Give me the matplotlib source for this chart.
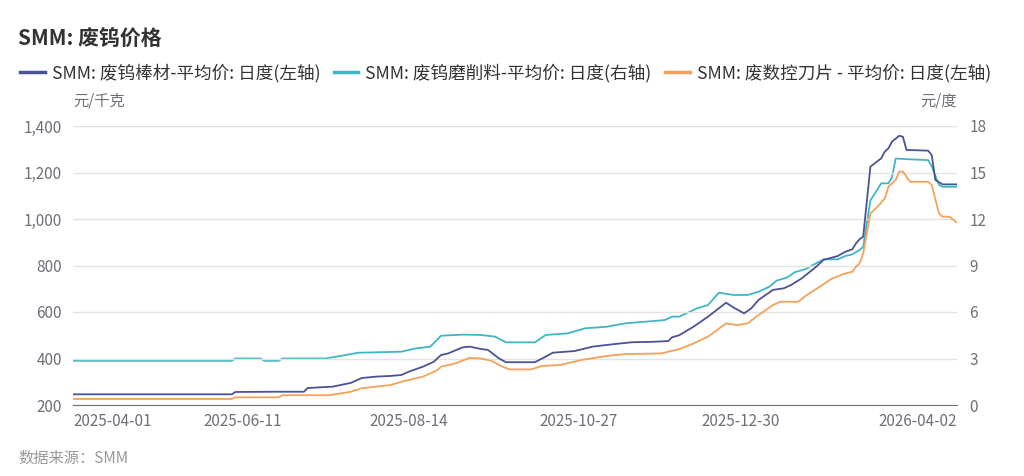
import matplotlib
matplotlib.use('Agg')
import matplotlib.pyplot as plt

plt.rcParams['font.family'] = ['Noto Sans CJK SC', 'DejaVu Sans']

# trading-day index of each vertex
rod_day = [0, 44, 45, 55, 64, 65, 72, 77, 80, 84, 88, 91, 93, 97, 100, 102, 104, 108, 110, 113,
           115, 118, 120, 128, 131, 133, 139, 144, 150, 155, 161, 165, 166, 168, 172, 176, 181,
           183, 186, 188, 190, 194, 197, 199, 202, 206, 208, 212, 214, 216, 217, 218, 219, 221,
           224, 225, 226, 227, 229, 230, 231, 237, 238, 239, 241, 245]
rod_price = [246, 246, 256, 257, 257, 273, 279, 295, 316, 322, 325, 329, 343, 365, 386, 415, 422,
             448, 451, 441, 437, 401, 384, 384, 408, 425, 432, 451, 462, 470, 472, 475, 491, 500,
             537, 580, 640, 620, 594, 616, 652, 695, 702, 716, 745, 795, 824, 841, 859, 870, 895,
             913, 924, 1225, 1261, 1290, 1304, 1333, 1358, 1354, 1297, 1294, 1275, 1168, 1149, 1149]

grind_day = [0, 44, 45, 52, 53, 57, 58, 70, 74, 79, 91, 95, 99, 102, 108, 113, 117, 120, 128, 131,
             137, 142, 148, 153, 159, 164, 166, 168, 173, 176, 179, 183, 187, 190, 193, 195, 198,
             200, 203, 208, 212, 214, 216, 218, 219, 221, 224, 226, 227, 228, 232, 237, 238, 240,
             241, 245]
grind_price = [2.85, 2.85, 3.0, 3.0, 2.85, 2.85, 3.0, 3.0, 3.16, 3.37, 3.44, 3.65, 3.76, 4.47, 4.54,
               4.52, 4.41, 4.04, 4.04, 4.52, 4.62, 4.95, 5.05, 5.27, 5.38, 5.48, 5.7, 5.7, 6.24,
               6.45, 7.25, 7.1, 7.1, 7.31, 7.63, 8.02, 8.24, 8.56, 8.77, 9.4, 9.4, 9.61, 9.72, 10.0,
               10.2, 13.2, 14.3, 14.3, 14.7, 15.9, 15.85, 15.8, 15.4, 14.2, 14.08, 14.08]

insert_day = [0, 44, 45, 57, 58, 71, 77, 80, 84, 88, 91, 97, 101, 102, 106, 110, 113, 116, 119, 121,
              127, 130, 135, 141, 148, 153, 163, 168, 172, 176, 181, 184, 187, 190, 194, 196, 201,
              203, 207, 210, 214, 216, 217, 218, 219, 221, 223, 225, 226, 228, 229, 230, 232, 237,
              238, 240, 241, 243, 244, 245]
insert_price = [226, 226, 233, 233, 242, 242, 257, 272, 279, 286, 300, 322, 350, 365, 379, 403, 400,
                390, 365, 353, 353, 368, 372, 394, 411, 419, 422, 440, 465, 494, 551, 544, 551, 587,
                630, 644, 644, 669, 709, 741, 766, 773, 795, 809, 852, 1024, 1053, 1089, 1139, 1168,
                1204, 1204, 1160, 1160, 1146, 1024, 1010, 1010, 996, 985]

tick_day = [0, 47, 93, 140, 185, 245]
tick_label = ['2025-04-01', '2025-06-11', '2025-08-14', '2025-10-27', '2025-12-30', '2026-04-02']

c_rod = '#4b5394'
c_grind = '#3fb6c4'
c_insert = '#f2a25a'
txt = '#6e7079'

fig = plt.figure(figsize=(10.24, 4.76), dpi=100)
ax = fig.add_axes([73 / 1024, 1 - 405 / 476, (957 - 73) / 1024, (405 - 126) / 476])
ax2 = ax.twinx()

l1, = ax.plot(rod_day, rod_price, color=c_rod, lw=1.3)
l3, = ax.plot(insert_day, insert_price, color=c_insert, lw=1.3)
l2, = ax2.plot(grind_day, grind_price, color=c_grind, lw=1.3)
ax.set_zorder(ax2.get_zorder() + 1)
ax.patch.set_visible(False)

ax.set_xlim(0, 245)
ax.set_ylim(200, 1400)
ax.set_yticks(range(200, 1401, 200))
ax.set_yticklabels([f'{v:,}' for v in range(200, 1401, 200)])
ax2.set_ylim(0, 18)
ax2.set_yticks(range(0, 19, 3))

ax.set_xticks(tick_day)
ax.set_xticklabels(tick_label)
xl = ax.get_xticklabels()
xl[0].set_ha('left')
xl[-1].set_ha('right')

ax.grid(axis='y', color='#e3e3e3', lw=1)
for a in (ax, ax2):
    for s in ('top', 'left', 'right', 'bottom'):
        a.spines[s].set_visible(False)
    a.tick_params(length=0, labelsize=11, colors=txt)
ax.spines['bottom'].set_visible(True)
ax.spines['bottom'].set_color('#6e7079')
ax.tick_params(axis='x', pad=6)
ax.tick_params(axis='y', pad=8)
ax2.tick_params(axis='y', pad=9)

fig.text(18 / 1024, 1 - 38 / 476, 'SMM: 废钨价格', fontsize=15, fontweight='bold',
         color='#333333', va='center')
fig.legend([l1, l2, l3],
           ['SMM: 废钨棒材-平均价: 日度(左轴)', 'SMM: 废钨磨削料-平均价: 日度(右轴)',
            'SMM: 废数控刀片 - 平均价: 日度(左轴)'],
           loc='center left', bbox_to_anchor=(20 / 1024, 1 - 73 / 476), ncol=3, frameon=False,
           handlelength=1.4, handletextpad=0.4, columnspacing=0.75, borderaxespad=0, borderpad=0,
           prop={'size': 12.7}, labelcolor='#333333')
for h in fig.legends[0].legend_handles:
    h.set_linewidth(2.5)
fig.text(73 / 1024, 1 - 101 / 476, '元/千克', fontsize=11, color=txt, va='center')
fig.text(957 / 1024, 1 - 101 / 476, '元/度', fontsize=11, color=txt, va='center', ha='right')
fig.text(18 / 1024, 1 - 458 / 476, '数据来源：SMM', fontsize=11, color='#999999',
         style='italic', va='center')

fig.savefig('out.png', dpi=100)
